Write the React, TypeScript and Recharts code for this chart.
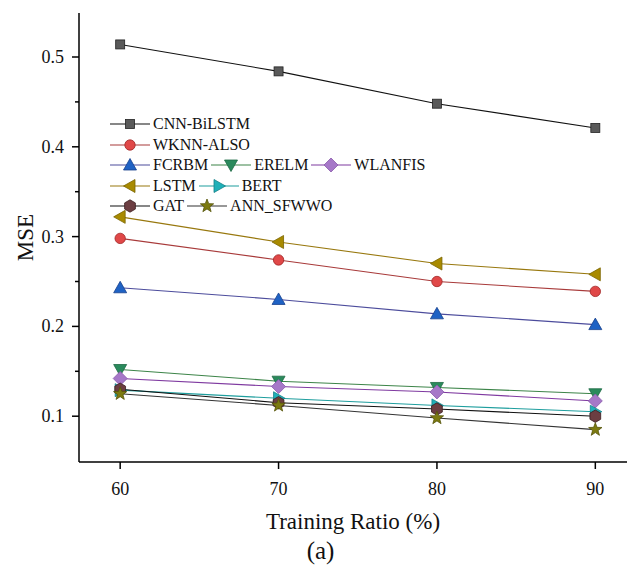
import React from 'react';
import { LineChart, Line, XAxis, YAxis, Legend } from 'recharts';

const ratios = [60, 70, 80, 90];

const cnnBiLstm = [0.514, 0.484, 0.448, 0.421];
const wknnAlso = [0.298, 0.274, 0.25, 0.239];
const fcrbm = [0.243, 0.23, 0.214, 0.202];
const erelm = [0.152, 0.139, 0.132, 0.125];
const wlanfis = [0.142, 0.133, 0.127, 0.117];
const lstm = [0.322, 0.294, 0.27, 0.258];
const bert = [0.129, 0.12, 0.112, 0.105];
const gat = [0.13, 0.115, 0.108, 0.1];
const annSfwwo = [0.125, 0.112, 0.098, 0.085];

const yTicks = [0.1, 0.15, 0.2, 0.25, 0.3, 0.35, 0.4, 0.45, 0.5];
const xTicks = [60, 70, 80, 90];

type Shape = 'square' | 'circle' | 'up' | 'down' | 'diamond' | 'left' | 'right' | 'hexagon' | 'star';

interface SeriesDef {
  key: string;
  name: string;
  values: number[];
  line: string;
  fill: string;
  edge: string;
  shape: Shape;
}

const series: SeriesDef[] = [
  { key: 'cnn', name: 'CNN-BiLSTM', values: cnnBiLstm, line: '#111111', fill: '#5a5a5a', edge: '#222222', shape: 'square' },
  { key: 'wknn', name: 'WKNN-ALSO', values: wknnAlso, line: '#a83a3a', fill: '#e04848', edge: '#a02525', shape: 'circle' },
  { key: 'fcrbm', name: 'FCRBM', values: fcrbm, line: '#4c4c9c', fill: '#1f62c4', edge: '#18408c', shape: 'up' },
  { key: 'erelm', name: 'ERELM', values: erelm, line: '#3c8448', fill: '#2a8a5c', edge: '#1d6a44', shape: 'down' },
  { key: 'wlanfis', name: 'WLANFIS', values: wlanfis, line: '#7f3aa0', fill: '#a678c8', edge: '#8a5aac', shape: 'diamond' },
  { key: 'lstm', name: 'LSTM', values: lstm, line: '#98780e', fill: '#a88a00', edge: '#7a6400', shape: 'left' },
  { key: 'bert', name: 'BERT', values: bert, line: '#1e9e9e', fill: '#1fb0b8', edge: '#148088', shape: 'right' },
  { key: 'gat', name: 'GAT', values: gat, line: '#111111', fill: '#6c3e42', edge: '#3a1c1e', shape: 'hexagon' },
  { key: 'ann', name: 'ANN_SFWWO', values: annSfwwo, line: '#333333', fill: '#7c7a10', edge: '#55540a', shape: 'star' },
];

const legendRows = [
  ['CNN-BiLSTM'],
  ['WKNN-ALSO'],
  ['FCRBM', 'ERELM', 'WLANFIS'],
  ['LSTM', 'BERT'],
  ['GAT', 'ANN_SFWWO'],
];

const data = ratios.map((ratio, i) => {
  const row: Record<string, number> = { ratio };
  series.forEach((s) => {
    row[s.key] = s.values[i];
  });
  return row;
});

const WIDTH = 641;
const HEIGHT = 566;
const FONT = "'Liberation Serif', 'Times New Roman', serif";

const polygon = (pts: [number, number][]) => pts.map((p) => p.join(',')).join(' ');

const Marker = ({ shape, cx, cy, fill, edge }: { shape: Shape; cx: number; cy: number; fill: string; edge: string }) => {
  const common = { fill, stroke: edge, strokeWidth: 0.8 };
  switch (shape) {
    case 'square':
      return <rect x={cx - 4.5} y={cy - 4.5} width={9} height={9} {...common} />;
    case 'circle':
      return <circle cx={cx} cy={cy} r={5.2} {...common} />;
    case 'up':
      return <polygon points={polygon([[cx, cy - 6.5], [cx + 6.5, cy + 5], [cx - 6.5, cy + 5]])} {...common} />;
    case 'down':
      return <polygon points={polygon([[cx - 6.5, cy - 5], [cx + 6.5, cy - 5], [cx, cy + 6.5]])} {...common} />;
    case 'diamond':
      return <polygon points={polygon([[cx, cy - 7], [cx + 7, cy], [cx, cy + 7], [cx - 7, cy]])} {...common} />;
    case 'left':
      return <polygon points={polygon([[cx - 6.5, cy], [cx + 5, cy - 6.5], [cx + 5, cy + 6.5]])} {...common} />;
    case 'right':
      return <polygon points={polygon([[cx + 6.5, cy], [cx - 5, cy - 6.5], [cx - 5, cy + 6.5]])} {...common} />;
    case 'hexagon': {
      const pts: [number, number][] = [];
      for (let k = 0; k < 6; k++) {
        const a = Math.PI / 6 + (k * Math.PI) / 3;
        pts.push([cx + 6.2 * Math.cos(a), cy + 6.2 * Math.sin(a)]);
      }
      return <polygon points={polygon(pts)} {...common} />;
    }
    case 'star': {
      const pts: [number, number][] = [];
      for (let k = 0; k < 10; k++) {
        const r = k % 2 === 0 ? 7 : 2.9;
        const a = -Math.PI / 2 + (k * Math.PI) / 5;
        pts.push([cx + r * Math.cos(a), cy + r * Math.sin(a)]);
      }
      return <polygon points={polygon(pts)} {...common} />;
    }
    default:
      return null;
  }
};

// y ticks: labelled majors every 0.1, short unlabelled minors in between
const YTick = (props: any) => {
  const { x, y, payload } = props;
  const axisX = x + 12;
  const v = payload.value as number;
  const major = Math.abs(Math.round(v * 10) - v * 10) < 1e-6;
  return (
    <g>
      <line x1={axisX - (major ? 7 : 4)} x2={axisX} y1={y} y2={y} stroke="#000" strokeWidth={1.5} />
      {major && (
        <text x={x - 3} y={y} dy={6} textAnchor="end" fontSize={18} style={{ fontFamily: FONT }} fill="#111">
          {v.toFixed(1)}
        </text>
      )}
    </g>
  );
};

const XTick = (props: any) => {
  const { x, y, payload } = props;
  return (
    <text x={x} y={y} dy={20} textAnchor="middle" fontSize={18} style={{ fontFamily: FONT }} fill="#111">
      {payload.value}
    </text>
  );
};

const LegendBox = () => (
  <div style={{ fontFamily: FONT, fontSize: 16, color: '#111', lineHeight: '20.5px' }}>
    {legendRows.map((row) => (
      <div key={row.join()} style={{ display: 'flex', alignItems: 'center', height: 20.5 }}>
        {row.map((name) => {
          const s = series.find((d) => d.name === name)!;
          return (
            <div key={name} style={{ display: 'flex', alignItems: 'center', marginRight: 3 }}>
              <svg width={40} height={16} style={{ display: 'block' }}>
                <line x1={0} x2={40} y1={8} y2={8} stroke={s.line} strokeWidth={1.2} />
                <Marker shape={s.shape} cx={20} cy={8} fill={s.fill} edge={s.edge} />
              </svg>
              <span style={{ marginLeft: 3 }}>{name}</span>
            </div>
          );
        })}
      </div>
    ))}
  </div>
);

const XTitle = (props: any) => {
  const { viewBox } = props;
  const cx = viewBox.x + viewBox.width / 2;
  return (
    <g style={{ fontFamily: FONT }} fill="#111">
      <text x={cx} y={viewBox.y + 67} textAnchor="middle" fontSize={23}>
        Training Ratio (%)
      </text>
      <text x={WIDTH / 2} y={viewBox.y + 97} textAnchor="middle" fontSize={25}>
        (a)
      </text>
    </g>
  );
};

const YTitle = (props: any) => {
  const { viewBox } = props;
  const cy = viewBox.y + viewBox.height / 2;
  return (
    <text
      x={33}
      y={cy}
      transform={`rotate(-90, 33, ${cy})`}
      textAnchor="middle"
      fontSize={23}
      style={{ fontFamily: FONT }}
      fill="#111"
    >
      MSE
    </text>
  );
};

export default function App() {
  return (
    <div style={{ width: WIDTH, height: HEIGHT, margin: '-8px 0 0 -8px', background: '#fff' }}>
      <LineChart width={WIDTH} height={HEIGHT} data={data} margin={{ top: 13, right: 14, bottom: 0, left: 0 }}>
        <XAxis
          dataKey="ratio"
          type="number"
          domain={[57.4, 92]}
          ticks={xTicks}
          height={104}
          tickSize={7}
          tickMargin={6}
          axisLine={{ stroke: '#000', strokeWidth: 1.5 }}
          tickLine={{ stroke: '#000', strokeWidth: 1.5 }}
          tick={<XTick />}
          label={<XTitle />}
        />
        <XAxis
          xAxisId="top"
          dataKey="ratio"
          type="number"
          domain={[57.4, 92]}
          orientation="top"
          height={0}
          tick={false}
          tickLine={false}
          axisLine={{ stroke: '#000', strokeWidth: 1.5 }}
        />
        <YAxis
          type="number"
          domain={[0.049, 0.549]}
          ticks={yTicks}
          width={79}
          tickSize={7}
          tickMargin={5}
          tickLine={false}
          axisLine={{ stroke: '#000', strokeWidth: 1.5 }}
          tick={<YTick />}
          label={<YTitle />}
        />
        <YAxis
          yAxisId="right"
          orientation="right"
          type="number"
          domain={[0.049, 0.549]}
          width={0}
          tick={false}
          tickLine={false}
          axisLine={{ stroke: '#000', strokeWidth: 1.5 }}
        />
        <Legend
          layout="vertical"
          verticalAlign="middle"
          align="center"
          content={<LegendBox />}
          wrapperStyle={{ left: 110, top: 114, width: 320 }}
        />
        {series.map((s) => (
          <Line
            key={s.key}
            dataKey={s.key}
            name={s.name}
            stroke={s.line}
            strokeWidth={1.1}
            isAnimationActive={false}
            dot={(p: any) => (
              <Marker key={`${s.key}-${p.index}`} shape={s.shape} cx={p.cx} cy={p.cy} fill={s.fill} edge={s.edge} />
            )}
            activeDot={false}
          />
        ))}
      </LineChart>
    </div>
  );
}
